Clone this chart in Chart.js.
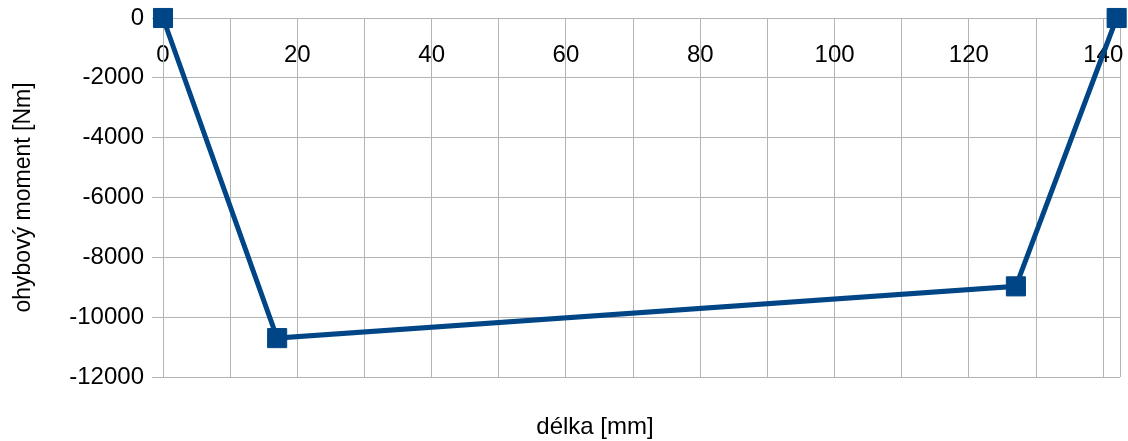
<!DOCTYPE html>
<html>
<head>
<meta charset="utf-8">
<script src="https://cdn.jsdelivr.net/npm/chart.js@4.4.1/dist/chart.umd.min.js"></script>
<style>
  html, body { margin: 0; padding: 0; background: #fff; overflow: hidden; }
  #wrap { width: 1128px; height: 441px; }
  canvas { display: block; }
</style>
</head>
<body>
<div id="wrap"><canvas id="myChart"></canvas></div>
<script>
// hodnoty
const delka = [0, 17, 127, 142];
const moment = [0, -10700, -8970, 0];
const xMax = 142.5;
const yMin = -12000;
const yMax = 0;
const popisX = 'délka [mm]';
const popisY = 'ohybový moment [Nm]';

const BLUE = '#004586';
const GRID = '#b3b3b3';
const FONT = "'Liberation Sans', Arial, sans-serif";

const body = delka.map((x, i) => ({ x: x, y: moment[i] }));

// popis osy x pod grafem (v originale neni na stredu)
const popisOsyX = {
  id: 'popisOsyX',
  afterDraw(chart) {
    const c = chart.ctx;
    c.save();
    c.fillStyle = '#000';
    c.font = '24px ' + FONT;
    c.textAlign = 'center';
    c.textBaseline = 'middle';
    c.fillText(popisX, 595, 427);
    c.restore();
  }
};

const ctx = document.getElementById('myChart').getContext('2d');
const myChart = new Chart(ctx, {
  type: 'line',
  data: {
    datasets: [{
      data: body,
      borderColor: BLUE,
      backgroundColor: BLUE,
      borderWidth: 5,
      pointStyle: 'rect',
      pointRadius: 13.5,
      pointBorderWidth: 1,
      pointBorderColor: BLUE,
      pointBackgroundColor: BLUE,
      tension: 0,
      clip: false
    }]
  },
  options: {
    responsive: true,
    maintainAspectRatio: false,
    animation: false,
    layout: { autoPadding: false, padding: { top: 18, right: 8, left: 0, bottom: 64 } },
    plugins: {
      legend: { display: false },
      tooltip: { enabled: false },
      title: { display: false }
    },
    scales: {
      x: {
        type: 'linear',
        position: { y: 0 },
        min: 0,
        max: xMax,
        afterBuildTicks: (scale) => {
          const t = [];
          for (let v = 0; v <= 140; v += 10) t.push({ value: v });
          t.push({ value: xMax });
          scale.ticks = t;
        },
        afterFit: (scale) => { scale.paddingLeft = 0; scale.paddingRight = 0; },
        ticks: {
          color: '#000',
          font: { family: FONT, size: 24 },
          padding: 23,
          maxRotation: 0,
          autoSkip: false,
          callback: (v) => (v % 20 === 0 ? String(v) : '')
        },
        grid: { color: GRID, lineWidth: 1, drawTicks: false },
        border: { display: false }
      },
      y: {
        type: 'linear',
        min: yMin,
        max: yMax,
        afterFit: (scale) => {
          scale.width = 163;
          scale.paddingTop = 0;
          scale.paddingBottom = 0;
        },
        ticks: {
          stepSize: 1000,
          color: '#000',
          font: { family: FONT, size: 24 },
          padding: 8,
          callback: (v) => (v % 2000 === 0 ? String(v) : '')
        },
        grid: {
          color: GRID,
          lineWidth: 1,
          tickLength: 11,
          tickColor: (c) => (c.tick && c.tick.value % 2000 === 0 ? GRID : 'rgba(0,0,0,0)')
        },
        border: { display: true, color: GRID },
        title: {
          display: true,
          text: popisY,
          color: '#000',
          font: { family: FONT, size: 23 },
          padding: { top: 10, bottom: 0 }
        }
      }
    }
  },
  plugins: [popisOsyX]
});
</script>
</body>
</html>
